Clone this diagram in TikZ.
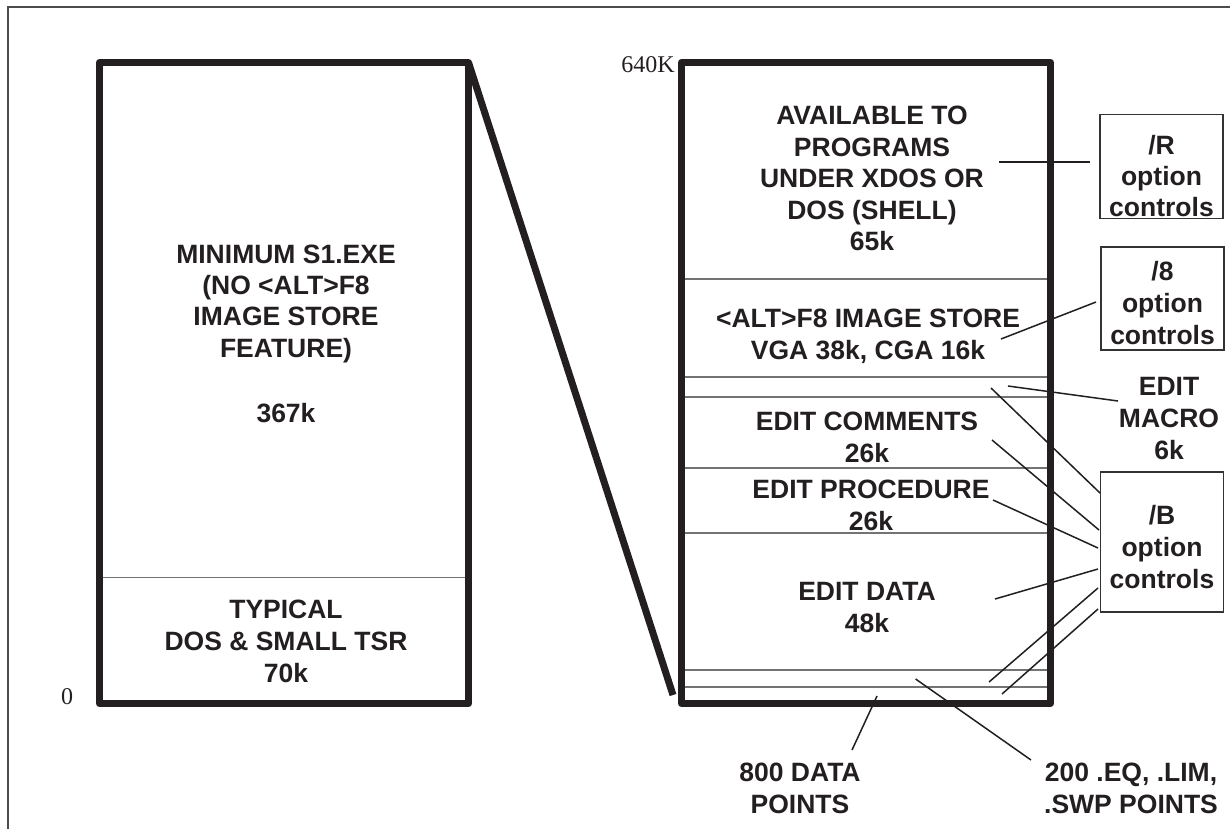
\documentclass[tikz,border=0pt]{standalone}
\usepackage{fontspec}
\setmainfont{Liberation Serif}
\setsansfont{Liberation Sans}
\definecolor{ink}{HTML}{231F20}
\newcommand{\lblfont}{\sffamily\bfseries\fontsize{26.5}{32}\selectfont}
\newcommand{\numfont}{\rmfamily\fontsize{24}{28}\selectfont}
\begin{document}
\begin{tikzpicture}[x=1pt,y=-1pt,
  membox/.style={draw=ink, line width=7pt, line join=round, outer sep=0pt, inner sep=0pt,
                 minimum width=369pt, minimum height=641pt},
  slant/.style={draw=ink, line width=7pt, line cap=butt},
  divline/.style={draw=black!55, line width=1.2pt},
  conn/.style={draw=ink, line width=1.5pt},
  frameline/.style={draw=black!70, line width=1.6pt},
  lbl/.style={align=center, font=\lblfont, text=ink, inner sep=0pt, text height=19pt, text depth=0pt},
  two/.style={text height=51pt},
  three/.style={text height=83pt},
  callout/.style={lbl, draw=black!80, line width=1.3pt, minimum width=123pt, outer sep=0pt},
  numlbl/.style={font=\numfont, text=ink, inner sep=0pt}
]
\clip (0,0) rectangle (1230,828);
\useasboundingbox (0,0) rectangle (1230,828);
\fill[white] (0,0) rectangle (1230,828);
% outer frame
\draw[frameline] (8,7) rectangle (1260,860);

% memory boxes
\node[membox] (lbox) at (284,383) {};
\node[membox] (rbox) at (866,383) {};

% dividers left
\draw[divline] (103,577.7) -- (465,577.7);
% dividers right
\foreach \yy in {279,377,397,468,533,670,687}
  \draw[divline] (685,\yy) -- (1047,\yy);

% zoom line
\coordinate (slantend) at (673,695);
\draw[slant] (lbox.north east) -- (slantend);

% scale labels
\node[numlbl, anchor=base east] (k640) at (675,72) {640K};
\node[numlbl, anchor=base] (zero) at (67,704) {0};

% left box texts
\node[lbl, font=\sffamily\bfseries\fontsize{26.5}{31.4}\selectfont, text height=113.2pt] (lmin) at (286,300.7)
  {MINIMUM S1.EXE\\(NO <ALT>F8\\IMAGE STORE\\FEATURE)};
\node[lbl] (l367) at (286,413) {367k};
\node[lbl, three] (ltsr) at (286,641) {TYPICAL\\DOS \& SMALL TSR\\70k};

% right box texts
\node[lbl, font=\sffamily\bfseries\fontsize{26.5}{31.5}\selectfont, text height=145pt] (ravail) at (872,178)
  {AVAILABLE TO\\PROGRAMS\\UNDER XDOS OR\\DOS (SHELL)\\65k};
\node[lbl, two] (ralt) at (868,333.5) {<ALT>F8 IMAGE STORE\\VGA 38k, CGA 16k};
\node[lbl, two] (rcom) at (867,436.5) {EDIT COMMENTS\\26k};
\node[lbl, two] (rproc) at (871,504.5) {EDIT PROCEDURE\\26k};
\node[lbl, two] (rdata) at (867,607) {EDIT DATA\\48k};

% callout boxes
\node[callout, font=\sffamily\bfseries\fontsize{26.5}{31.2}\selectfont, text height=101pt, minimum height=104pt] (cR) at (1161.5,166.3) {/R\\option\\controls};
\node[callout, text height=92.6pt, minimum height=103pt] (c8) at (1162.5,298.5) {/8\\option\\controls};
\node[callout, text height=93pt, minimum height=140pt] (cB) at (1162,542) {/B\\option\\controls};
\node[lbl, three] (macro) at (1169,417.5) {EDIT\\MACRO\\6k};
\node[lbl, two] (p800) at (800,787.5) {800 DATA\\POINTS};
\node[lbl, two] (p200) at (1131,787.5) {200 .EQ, .LIM,\\.SWP POINTS};

% connector end points
\coordinate (rA) at (999,162);    \coordinate (rB) at (1090,162);
\coordinate (eA) at (1001,339);   \coordinate (eB) at (1096,302);
\coordinate (mA) at (1008,386);   \coordinate (mB) at (1118,401);
\coordinate (b1A) at (991,388);   \coordinate (b1B) at (1100,493);
\coordinate (b2A) at (992,440);   \coordinate (b2B) at (1099,530);
\coordinate (b3A) at (993,500);   \coordinate (b3B) at (1098,548);
\coordinate (b4A) at (995,599);   \coordinate (b4B) at (1098,569);
\coordinate (b5A) at (989,682);   \coordinate (b5B) at (1098,588);
\coordinate (b6A) at (1002,694);  \coordinate (b6B) at (1098,609);
\coordinate (dA) at (877,696);    \coordinate (dB) at (852,750);
\coordinate (qA) at (915.6,679);  \coordinate (qB) at (1031,760);

\draw[conn] (rA) -- (rB);
\draw[conn] (eA) -- (eB);
\draw[conn] (mA) -- (mB);
\draw[conn] (b1A) -- (b1B);
\draw[conn] (b2A) -- (b2B);
\draw[conn] (b3A) -- (b3B);
\draw[conn] (b4A) -- (b4B);
\draw[conn] (b5A) -- (b5B);
\draw[conn] (b6A) -- (b6B);
\draw[conn] (dA) -- (dB);
\draw[conn] (qA) -- (qB);
\end{tikzpicture}
\end{document}
